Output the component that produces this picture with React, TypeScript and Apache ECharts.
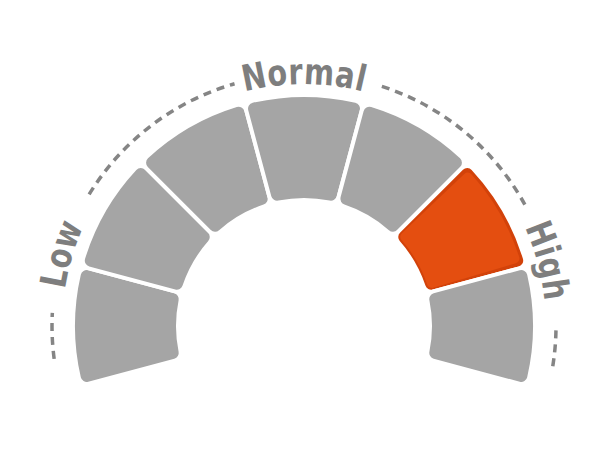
import React, { useEffect, useRef } from "react";
import * as echarts from "echarts";

// ---- data ----
const segmentNames = ["Very Low", "Low", "Low Normal", "Normal", "High Normal", "High", "Very High"];
const segmentValues = [1, 1, 1, 1, 1, 1, 1];
const activeSegment = 5;
const bandLabels = ["Low", "Normal", "High"];
const bandLabelAt = [1.05, 3.5, 6]; // position on the segment scale

// ---- layout / style ----
const CX = 304;
const CY = 326;
const R_IN = 128;
const R_OUT = 229;
const R_DASH = 252;
const R_TXT = 254;
const START_ANGLE = 195;
const END_ANGLE = -15;
const GAP = 4;
const DASH_ARCS: [number, number][] = [
  [187.5, 177],
  [148.5, 106],
  [72, 28],
  [-1, -10.5],
];
const GRAY = "#A5A5A5";
const ORANGE_RIM = "#D2420A";
const ORANGE = "#E44E10";
const TEXT_COLOR = "#7E7E7E";
const FONT_FAMILY = '"DejaVu Sans", sans-serif';
const FONT_SIZE = 36;
const FONT_WEIGHT = "bold";
const SCALE_X = 0.8;
const LETTER_SPACING = 1.5;

const total = segmentValues.reduce((a, b) => a + b, 0);
const angleOf = (v: number) => START_ANGLE - (v * (START_ANGLE - END_ANGLE)) / total;

function curvedText(text: string, centerDeg: number, r: number) {
  const ctx = document.createElement("canvas").getContext("2d")!;
  ctx.font = `${FONT_WEIGHT} ${FONT_SIZE}px ${FONT_FAMILY}`;
  const chars = [...text];
  const widths = chars.map((c) => ctx.measureText(c).width * SCALE_X);
  const totalW = widths.reduce((a, b) => a + b, 0) + LETTER_SPACING * (chars.length - 1);
  let a = (centerDeg * Math.PI) / 180 + totalW / 2 / r;
  const els: any[] = [];
  chars.forEach((c, i) => {
    const mid = a - widths[i] / 2 / r;
    els.push({
      type: "text",
      x: CX + r * Math.cos(mid),
      y: CY - r * Math.sin(mid),
      rotation: mid - Math.PI / 2,
      scaleX: SCALE_X,
      silent: true,
      style: {
        text: c,
        fill: TEXT_COLOR,
        fontSize: FONT_SIZE,
        fontFamily: FONT_FAMILY,
        fontWeight: FONT_WEIGHT,
        align: "center",
        verticalAlign: "middle",
      },
    });
    a -= (widths[i] + LETTER_SPACING) / r;
  });
  return els;
}

export default function App() {
  const ref = useRef<HTMLDivElement>(null);
  useEffect(() => {
    if (!ref.current) return;
    const chart = echarts.init(ref.current, null, { renderer: "svg" });

    const dashEls = DASH_ARCS.map(([a1, a2]) => ({
      type: "arc",
      silent: true,
      shape: {
        cx: CX,
        cy: CY,
        r: R_DASH,
        startAngle: (-a1 * Math.PI) / 180,
        endAngle: (-a2 * Math.PI) / 180,
        clockwise: true,
      },
      style: { stroke: "#858585", lineWidth: 3.5, lineDash: [8, 6], fill: null },
    }));

    const textEls = bandLabels.flatMap((t, i) => curvedText(t, angleOf(bandLabelAt[i]), R_TXT));

    chart.setOption({
      animation: false,
      backgroundColor: "#fff",
      graphic: { elements: [...dashEls, ...textEls] },
      series: [
        {
          type: "pie",
          silent: true,
          center: [CX, CY],
          radius: [R_IN - GAP / 2, R_OUT + GAP / 2],
          startAngle: START_ANGLE,
          endAngle: END_ANGLE,
          clockwise: true,
          label: { show: false },
          labelLine: { show: false },
          itemStyle: { borderColor: "#fff", borderWidth: GAP, borderRadius: 8 },
          data: segmentValues.map((v, i) => ({
            name: segmentNames[i],
            value: v,
            itemStyle: { color: i === activeSegment ? ORANGE_RIM : GRAY },
          })),
        },
        {
          type: "pie",
          silent: true,
          center: [CX, CY],
          radius: [R_IN + 2, R_OUT - 3],
          startAngle: START_ANGLE,
          endAngle: END_ANGLE,
          clockwise: true,
          padAngle: 3,
          label: { show: false },
          labelLine: { show: false },
          itemStyle: { borderRadius: 5 },
          data: segmentValues.map((v, i) => ({
            name: segmentNames[i],
            value: v,
            itemStyle: { color: i === activeSegment ? ORANGE : "rgba(0,0,0,0)" },
          })),
        },
      ],
    });
    return () => chart.dispose();
  }, []);
  return (
    <div
      ref={ref}
      style={{ position: "absolute", left: 0, top: 0, width: 610, height: 458 }}
    />
  );
}
